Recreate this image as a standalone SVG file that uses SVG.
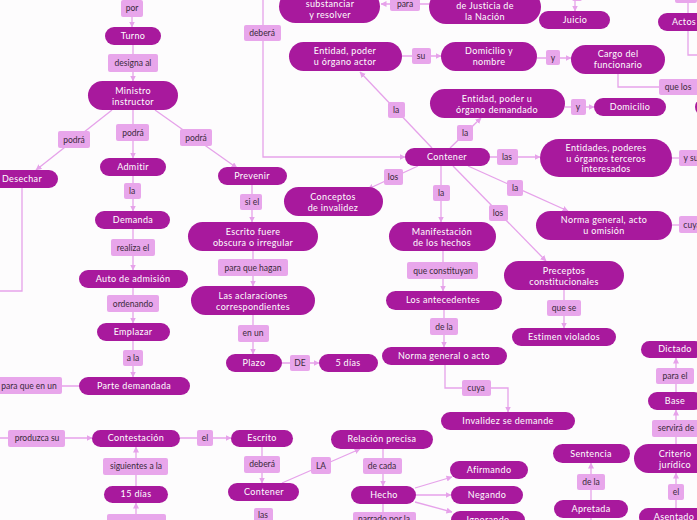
<svg xmlns="http://www.w3.org/2000/svg" width="697" height="520" viewBox="0 0 697 520">
<defs>
<marker id="ah" markerWidth="6" markerHeight="6" refX="5.5" refY="3" orient="auto" markerUnits="userSpaceOnUse">
<path d="M0,0 L6,3 L0,6 z" fill="#E6A2EA"/>
</marker>
<style>
.n{fill:#A8199D}
.nt{fill:#fff;font-family:Lato,"Noto Sans",sans-serif;font-size:9px;text-anchor:middle;letter-spacing:0.35px}
.l{fill:#E8A6EB}
.lt{fill:#3a2a3a;font-family:Lato,"Noto Sans",sans-serif;font-size:8.5px;text-anchor:middle}
.c{fill:none;stroke:#E6A2EA;stroke-width:1.3}
.a{marker-end:url(#ah)}
</style>
</defs>
<rect width="697" height="520" fill="#FDFCFD"/>
<g id="connectors">
<path class="c a" d="M132,0 L132,27"/>
<path class="c a" d="M133,45 L133,81"/>
<path class="c a" d="M112,110 L36,170"/>
<path class="c a" d="M133,110 L133,158"/>
<path class="c a" d="M155,110 L237,168"/>
<path class="c a" d="M133,176 L133,211"/>
<path class="c a" d="M133,229 L133,270"/>
<path class="c a" d="M133,288 L133,323"/>
<path class="c a" d="M133,341 L133,377"/>
<path class="c" d="M79,386 L0,386"/>
<path class="c" d="M22,188 L22,291 L0,291"/>
<path class="c a" d="M0,438 L92,438"/>
<path class="c a" d="M136,486 L136,447"/>
<path class="c a" d="M136,520 L136,503"/>
<path class="c a" d="M180,438 L231,438"/>
<path class="c a" d="M262,447 L262,483"/>
<path class="c a" d="M282,483 L360,449"/>
<path class="c a" d="M383,449 L383,486"/>
<path class="c a" d="M415,488 L452,477"/>
<path class="c a" d="M416,495 L451,495"/>
<path class="c a" d="M415,502 L452,512"/>
<path class="c" d="M383,504 L383,514"/>
<path class="c a" d="M432,148 L360,72"/>
<path class="c a" d="M402,56 L441,56"/>
<path class="c a" d="M537,58 L571,58"/>
<path class="c" d="M618,74 L618,87 L697,87"/>
<path class="c" d="M688,0 L688,13"/>
<path class="c" d="M688,31 L688,55 L697,55"/>
<path class="c a" d="M450,148 L481,118"/>
<path class="c a" d="M565,107 L594,107"/>
<path class="c a" d="M490,157 L540,157"/>
<path class="c" d="M672,158 L697,158"/>
<path class="c a" d="M468,166 L568,211"/>
<path class="c" d="M672,225 L697,225"/>
<path class="c a" d="M453,166 L546,261"/>
<path class="c a" d="M564,290 L564,328"/>
<path class="c a" d="M441,166 L441,222"/>
<path class="c a" d="M443,251 L443,291"/>
<path class="c a" d="M444,310 L444,347"/>
<path class="c a" d="M445,365 L445,388 L508,388 L508,412"/>
<path class="c a" d="M418,166 L368,189"/>
<path class="c a" d="M263,0 L263,157 L405,157"/>
<path class="c a" d="M429,4 L381,4"/>
<path class="c a" d="M575,0 L575,11"/>
<path class="c a" d="M252,185 L252,222"/>
<path class="c a" d="M253,251 L253,286"/>
<path class="c a" d="M253,315 L253,354"/>
<path class="c a" d="M282,363 L319,363"/>
<path class="c a" d="M591,500 L591,463"/>
<path class="c" d="M591,518 L591,520"/>
<path class="c a" d="M676,508 L676,473"/>
<path class="c a" d="M676,444 L676,410"/>
<path class="c a" d="M676,392 L676,358"/>

<g id="labels">
<rect class="l" x="121" y="0" width="22" height="17" rx="2"/><text class="lt" x="132" y="11">por</text>
<rect class="l" x="108" y="54" width="50" height="18" rx="2"/><text class="lt" x="133" y="66">designa al</text>
<rect class="l" x="58" y="131" width="32" height="17" rx="2"/><text class="lt" x="74" y="143">podrá</text>
<rect class="l" x="116" y="124" width="33" height="17" rx="2"/><text class="lt" x="133" y="136">podrá</text>
<rect class="l" x="180" y="129" width="32" height="17" rx="2"/><text class="lt" x="196" y="141">podrá</text>
<rect class="l" x="124" y="183" width="17" height="16" rx="2"/><text class="lt" x="132" y="194">la</text>
<rect class="l" x="111" y="239" width="44" height="17" rx="2"/><text class="lt" x="133" y="251">realiza el</text>
<rect class="l" x="107" y="295" width="52" height="17" rx="2"/><text class="lt" x="133" y="307">ordenando</text>
<rect class="l" x="123" y="350" width="20" height="16" rx="2"/><text class="lt" x="133" y="361">a la</text>
<rect class="l" x="-2" y="377" width="64" height="17" rx="2"/><text class="lt" x="29" y="389">para que en un</text>
<rect class="l" x="8" y="430" width="57" height="17" rx="2"/><text class="lt" x="37" y="441">produzca su</text>
<rect class="l" x="197" y="430" width="16" height="16" rx="2"/><text class="lt" x="205" y="441">el</text>
<rect class="l" x="103" y="458" width="65" height="17" rx="2"/><text class="lt" x="136" y="469">siguientes a la</text>
<rect class="l" x="107" y="514" width="59" height="12" rx="2"/>
<rect class="l" x="244" y="456" width="36" height="17" rx="2"/><text class="lt" x="262" y="467">deberá</text>
<rect class="l" x="254" y="508" width="19" height="14" rx="2"/><text class="lt" x="263" y="518">las</text>
<rect class="l" x="311" y="457" width="20" height="17" rx="2"/><text class="lt" x="321" y="469">LA</text>
<rect class="l" x="363" y="458" width="39" height="16" rx="2"/><text class="lt" x="382" y="469">de cada</text>
<rect class="l" x="353" y="512" width="63" height="12" rx="2"/><text class="lt" x="384" y="522">narrado por la</text>
<rect class="l" x="462" y="380" width="29" height="16" rx="2"/><text class="lt" x="476" y="391">cuya</text>
<rect class="l" x="290" y="355" width="20" height="16" rx="2"/><text class="lt" x="300" y="366">DE</text>
<rect class="l" x="238" y="325" width="31" height="17" rx="2"/><text class="lt" x="253" y="336">en un</text>
<rect class="l" x="218" y="259" width="70" height="17" rx="2"/><text class="lt" x="253" y="271">para que hagan</text>
<rect class="l" x="240" y="194" width="22" height="16" rx="2"/><text class="lt" x="252" y="205">si el</text>
<rect class="l" x="384" y="169" width="19" height="16" rx="2"/><text class="lt" x="393" y="180">los</text>
<rect class="l" x="388" y="102" width="17" height="16" rx="2"/><text class="lt" x="396" y="113">la</text>
<rect class="l" x="412" y="48" width="19" height="16" rx="2"/><text class="lt" x="421" y="59">su</text>
<rect class="l" x="546" y="50" width="14" height="15" rx="2"/><text class="lt" x="553" y="61">y</text>
<rect class="l" x="659" y="79" width="40" height="16" rx="2"/><text class="lt" x="678" y="90">que los</text>
<rect class="l" x="457" y="125" width="16" height="16" rx="2"/><text class="lt" x="465" y="136">la</text>
<rect class="l" x="571" y="99" width="15" height="16" rx="2"/><text class="lt" x="578" y="110">y</text>
<rect class="l" x="497" y="149" width="21" height="16" rx="2"/><text class="lt" x="507" y="160">las</text>
<rect class="l" x="679" y="150" width="25" height="16" rx="2"/><text class="lt" x="691" y="161">y su</text>
<rect class="l" x="507" y="180" width="16" height="16" rx="2"/><text class="lt" x="515" y="191">la</text>
<rect class="l" x="679" y="216" width="25" height="17" rx="2"/><text class="lt" x="692" y="228">cuya</text>
<rect class="l" x="489" y="205" width="19" height="16" rx="2"/><text class="lt" x="498" y="216">los</text>
<rect class="l" x="547" y="300" width="34" height="16" rx="2"/><text class="lt" x="564" y="311">que se</text>
<rect class="l" x="433" y="185" width="17" height="16" rx="2"/><text class="lt" x="441" y="196">la</text>
<rect class="l" x="407" y="262" width="71" height="17" rx="2"/><text class="lt" x="443" y="274">que constituyan</text>
<rect class="l" x="430" y="318" width="28" height="17" rx="2"/><text class="lt" x="444" y="330">de la</text>
<rect class="l" x="244" y="25" width="37" height="16" rx="2"/><text class="lt" x="262" y="36">deberá</text>
<rect class="l" x="390" y="-5" width="30" height="16" rx="2"/><text class="lt" x="405" y="7">para</text>
<rect class="l" x="572" y="-10" width="10" height="11" rx="2"/>
<rect class="l" x="675" y="-10" width="22" height="13" rx="2"/>
<rect class="l" x="577" y="474" width="28" height="16" rx="2"/><text class="lt" x="591" y="485">de la</text>
<rect class="l" x="668" y="484" width="16" height="16" rx="2"/><text class="lt" x="676" y="495">el</text>
<rect class="l" x="652" y="420" width="48" height="17" rx="2"/><text class="lt" x="676" y="431">servirá de</text>
<rect class="l" x="656" y="368" width="38" height="16" rx="2"/><text class="lt" x="675" y="379">para el</text>
</g>
</g>

<g id="n-turno"><rect class="n" x="105" y="27" width="56" height="18" rx="9"/><text class="nt" x="133" y="39">Turno</text></g>
<g id="n-ministro"><rect class="n" x="88" y="81" width="90" height="29" rx="14.5"/><text class="nt" x="133" y="94">Ministro</text><text class="nt" x="133" y="105">instructor</text></g>
<g id="n-desechar"><rect class="n" x="-12" y="170" width="70" height="18" rx="9"/><text class="nt" x="22" y="182">Desechar</text></g>
<g id="n-admitir"><rect class="n" x="100" y="158" width="66" height="18" rx="9"/><text class="nt" x="133" y="170">Admitir</text></g>
<g id="n-prevenir"><rect class="n" x="218" y="167" width="69" height="18" rx="9"/><text class="nt" x="252" y="179">Prevenir</text></g>
<g id="n-demanda"><rect class="n" x="95" y="211" width="75" height="18" rx="9"/><text class="nt" x="133" y="223">Demanda</text></g>
<g id="n-auto"><rect class="n" x="79" y="270" width="109" height="18" rx="9"/><text class="nt" x="133" y="282">Auto de admisión</text></g>
<g id="n-emplazar"><rect class="n" x="97" y="323" width="73" height="18" rx="9"/><text class="nt" x="133" y="335">Emplazar</text></g>
<g id="n-parte"><rect class="n" x="79" y="377" width="111" height="18" rx="9"/><text class="nt" x="134" y="389">Parte demandada</text></g>
<g id="n-contestacion"><rect class="n" x="92" y="430" width="88" height="17" rx="8.5"/><text class="nt" x="136" y="441">Contestación</text></g>
<g id="n-escrito"><rect class="n" x="231" y="430" width="62" height="17" rx="8.5"/><text class="nt" x="262" y="441">Escrito</text></g>
<g id="n-15dias"><rect class="n" x="104" y="486" width="64" height="17" rx="8.5"/><text class="nt" x="136" y="497">15 días</text></g>
<g id="n-contener2"><rect class="n" x="228" y="483" width="71" height="18" rx="9"/><text class="nt" x="264" y="495">Contener</text></g>
<g id="n-relacion"><rect class="n" x="331" y="430" width="102" height="19" rx="9.5"/><text class="nt" x="382" y="442">Relación precisa</text></g>
<g id="n-hecho"><rect class="n" x="351" y="486" width="65" height="18" rx="9"/><text class="nt" x="384" y="498">Hecho</text></g>
<g id="n-afirmando"><rect class="n" x="450" y="461" width="78" height="18" rx="9"/><text class="nt" x="489" y="473">Afirmando</text></g>
<g id="n-negando"><rect class="n" x="451" y="486" width="72" height="18" rx="9"/><text class="nt" x="487" y="498">Negando</text></g>
<g id="n-ignorando"><rect class="n" x="451" y="511" width="74" height="18" rx="9"/><text class="nt" x="488" y="523">Ignorando</text></g>
<g id="n-normaacto"><rect class="n" x="382" y="347" width="125" height="18" rx="9"/><text class="nt" x="444" y="359">Norma general o acto</text></g>
<g id="n-invalidez"><rect class="n" x="441" y="412" width="134" height="18" rx="9"/><text class="nt" x="508" y="424">Invalidez se demande</text></g>
<g id="n-plazo"><rect class="n" x="226" y="354" width="56" height="18" rx="9"/><text class="nt" x="254" y="366">Plazo</text></g>
<g id="n-5dias"><rect class="n" x="319" y="354" width="59" height="18" rx="9"/><text class="nt" x="348" y="366">5 días</text></g>
<g id="n-aclaraciones"><rect class="n" x="191" y="286" width="124" height="29" rx="14.5"/><text class="nt" x="253" y="299">Las aclaraciones</text><text class="nt" x="253" y="310">correspondientes</text></g>
<g id="n-escritofuere"><rect class="n" x="188" y="222" width="130" height="29" rx="14.5"/><text class="nt" x="253" y="235">Escrito fuere</text><text class="nt" x="253" y="246">obscura o irregular</text></g>
<g id="n-conceptos"><rect class="n" x="284" y="187" width="99" height="29" rx="14.5"/><text class="nt" x="333" y="200">Conceptos</text><text class="nt" x="333" y="211">de invalidez</text></g>
<g id="n-contener"><rect class="n" x="405" y="148" width="85" height="18" rx="9"/><text class="nt" x="447" y="160">Contener</text></g>
<g id="n-actor"><rect class="n" x="289" y="42" width="113" height="29" rx="14.5"/><text class="nt" x="345" y="54">Entidad, poder</text><text class="nt" x="345" y="65">u órgano actor</text></g>
<g id="n-domnombre"><rect class="n" x="441" y="42" width="96" height="29" rx="14.5"/><text class="nt" x="489" y="54">Domicilio y</text><text class="nt" x="489" y="65">nombre</text></g>
<g id="n-cargo"><rect class="n" x="571" y="45" width="94" height="29" rx="14.5"/><text class="nt" x="618" y="57">Cargo del</text><text class="nt" x="618" y="68">funcionario</text></g>
<g id="n-demandado"><rect class="n" x="430" y="89" width="135" height="29" rx="14.5"/><text class="nt" x="497" y="102">Entidad, poder u</text><text class="nt" x="497" y="113">órgano demandado</text></g>
<g id="n-domicilio"><rect class="n" x="594" y="98" width="72" height="18" rx="9"/><text class="nt" x="630" y="110">Domicilio</text></g>
<g id="n-edge1"><rect class="n" x="695" y="98" width="40" height="18" rx="9"/></g>
<g id="n-terceros"><rect class="n" x="540" y="139" width="132" height="38" rx="19"/><text class="nt" x="606" y="151">Entidades, poderes</text><text class="nt" x="606" y="161.5">u órganos terceros</text><text class="nt" x="606" y="172">interesados</text></g>
<g id="n-normaomision"><rect class="n" x="536" y="211" width="136" height="29" rx="14.5"/><text class="nt" x="604" y="223">Norma general, acto</text><text class="nt" x="604" y="234">u omisión</text></g>
<g id="n-preceptos"><rect class="n" x="504" y="261" width="120" height="29" rx="14.5"/><text class="nt" x="564" y="274">Preceptos</text><text class="nt" x="564" y="285">constitucionales</text></g>
<g id="n-estimen"><rect class="n" x="512" y="328" width="104" height="18" rx="9"/><text class="nt" x="564" y="340">Estimen violados</text></g>
<g id="n-manifestacion"><rect class="n" x="389" y="222" width="107" height="29" rx="14.5"/><text class="nt" x="442" y="235">Manifestación</text><text class="nt" x="442" y="246">de los hechos</text></g>
<g id="n-antecedentes"><rect class="n" x="386" y="291" width="116" height="19" rx="9.5"/><text class="nt" x="443" y="303">Los antecedentes</text></g>
<g id="n-substanciar"><rect class="n" x="279" y="-10" width="101" height="33" rx="16.5"/><text class="nt" x="330" y="7">substanciar</text><text class="nt" x="330" y="18">y resolver</text></g>
<g id="n-justicia"><rect class="n" x="429" y="-10" width="112" height="34" rx="17"/><text class="nt" x="485" y="9">de Justicia de</text><text class="nt" x="485" y="20">la Nación</text></g>
<g id="n-juicio"><rect class="n" x="539" y="11" width="71" height="18" rx="9"/><text class="nt" x="575" y="23">Juicio</text></g>
<g id="n-actos"><rect class="n" x="658" y="13" width="50" height="18" rx="9"/><text class="nt" x="684" y="25">Actos</text></g>
<g id="n-sentencia"><rect class="n" x="553" y="444" width="77" height="19" rx="9.5"/><text class="nt" x="591" y="457">Sentencia</text></g>
<g id="n-apretada"><rect class="n" x="554" y="500" width="74" height="18" rx="9"/><text class="nt" x="591" y="512">Apretada</text></g>
<g id="n-criterio"><rect class="n" x="634" y="444" width="80" height="29" rx="14.5"/><text class="nt" x="675" y="457">Criterio</text><text class="nt" x="675" y="468">jurídico</text></g>
<g id="n-asentado"><rect class="n" x="639" y="508" width="70" height="18" rx="9"/><text class="nt" x="674" y="520">Asentado</text></g>
<g id="n-base"><rect class="n" x="648" y="392" width="55" height="18" rx="9"/><text class="nt" x="675" y="404">Base</text></g>
<g id="n-dictado"><rect class="n" x="641" y="341" width="62" height="17" rx="8.5"/><text class="nt" x="675" y="352">Dictado</text></g>
</svg>
